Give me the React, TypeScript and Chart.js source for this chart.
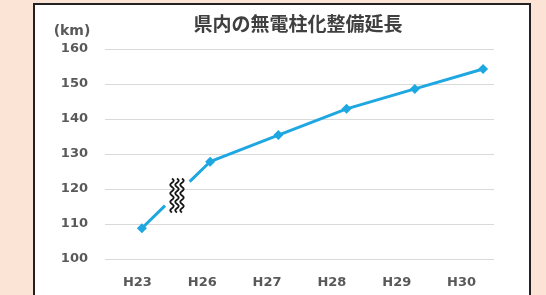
import React, { useEffect, useRef } from "react";
import { Chart, registerables } from "chart.js";

Chart.register(...registerables);

const categories = ["H23", "H26", "H27", "H28", "H29", "H30"];
const values = [108.8, 127.8, 135.4, 142.9, 148.6, 154.3];
const yTicks = [100, 110, 120, 130, 140, 150, 160];
const titleText = "県内の無電柱化整備延長";
const unitText = "(km)";

const LINE_COLOR = "#1ea7e1";
const TEXT_COLOR = "#595959";
const TICK_FONT = { family: "'DejaVu Sans', sans-serif", size: 13, weight: "bold" as const };

const breakPlugin = {
  id: "breakPlugin",
  beforeDatasetsDraw(chart: any) {
    const meta = chart.getDatasetMeta(0);
    const p0 = meta.data[0];
    const p1 = meta.data[1];
    if (!p0 || !p1) return;
    const ctx = chart.ctx;
    const lerp = (t: number) => ({ x: p0.x + (p1.x - p0.x) * t, y: p0.y + (p1.y - p0.y) * t });
    const a = lerp(0.34);
    const b = lerp(0.7);
    ctx.save();
    ctx.strokeStyle = LINE_COLOR;
    ctx.lineWidth = 3;
    ctx.beginPath();
    ctx.moveTo(p0.x, p0.y);
    ctx.lineTo(a.x, a.y);
    ctx.moveTo(b.x, b.y);
    ctx.lineTo(p1.x, p1.y);
    ctx.stroke();
    ctx.restore();
  },
  afterDatasetsDraw(chart: any) {
    const meta = chart.getDatasetMeta(0);
    const p0 = meta.data[0];
    const p1 = meta.data[1];
    if (!p0 || !p1) return;
    const ctx = chart.ctx;
    const cx = (p0.x + p1.x) / 2 + 1;
    const cy = (p0.y + p1.y) / 2 + 0.5;
    ctx.save();
    ctx.strokeStyle = "#151515";
    ctx.lineWidth = 1.8;
    const h = 34;
    const amp = 1.7;
    const periods = 4;
    for (let k = -1; k <= 1; k++) {
      const x0 = cx + k * 5;
      ctx.beginPath();
      for (let s = 0; s <= 80; s++) {
        const t = s / 80;
        const y = cy - h / 2 + t * h;
        const x = x0 + amp * Math.sin(t * periods * 2 * Math.PI);
        if (s === 0) ctx.moveTo(x, y);
        else ctx.lineTo(x, y);
      }
      ctx.stroke();
    }
    ctx.restore();
  },
};

const textPlugin = {
  id: "textPlugin",
  afterDraw(chart: any) {
    const ctx = chart.ctx;
    ctx.save();
    ctx.fillStyle = "#404040";
    ctx.font = "bold 19px 'Noto Sans CJK JP', sans-serif";
    ctx.textAlign = "center";
    ctx.textBaseline = "middle";
    ctx.fillText(titleText, 263, 19);
    ctx.fillStyle = TEXT_COLOR;
    ctx.font = "bold 14px 'DejaVu Sans', sans-serif";
    ctx.fillText(unitText, 37, 26);
    ctx.restore();
  },
};

export default function App() {
  const ref = useRef<HTMLCanvasElement>(null);

  useEffect(() => {
    if (!ref.current) return;
    const chart = new Chart(ref.current, {
      type: "line",
      data: {
        labels: categories,
        datasets: [
          {
            data: values.map((v, i) => ({ x: i, y: v })),
            xAxisID: "x",
            yAxisID: "y",
            borderColor: LINE_COLOR,
            backgroundColor: LINE_COLOR,
            borderWidth: 3,
            pointStyle: "rectRot",
            pointRadius: 5,
            pointBorderWidth: 0,
            pointBackgroundColor: LINE_COLOR,
            tension: 0,
            segment: {
              borderColor: (c: any) => (c.p0DataIndex === 0 ? "rgba(0,0,0,0)" : LINE_COLOR),
            },
          },
        ],
      },
      options: {
        responsive: false,
        animation: false,
        layout: { padding: { left: 0, right: 35, top: 44, bottom: 4 } },
        plugins: {
          legend: { display: false },
          tooltip: { enabled: false },
          title: { display: false },
        },
        scales: {
          x: {
            type: "linear",
            display: false,
            min: -0.54,
            max: 5.16,
          },
          xl: {
            type: "category",
            position: "bottom",
            labels: categories,
            offset: true,
            afterFit: (s: any) => {
              s.height = 32;
            },
            grid: { display: false, drawTicks: false },
            border: { display: false },
            ticks: { color: TEXT_COLOR, font: TICK_FONT, padding: 16, maxRotation: 0 },
          },
          y: {
            type: "linear",
            min: yTicks[0],
            max: yTicks[yTicks.length - 1],
            afterFit: (s: any) => {
              s.width = 70;
            },
            afterBuildTicks: (s: any) => {
              s.ticks = yTicks.map((v) => ({ value: v }));
            },
            grid: { color: "#d9d9d9", lineWidth: 1, drawTicks: false },
            border: { display: false },
            ticks: { color: TEXT_COLOR, font: TICK_FONT, padding: 17 },
          },
        },
      } as any,
      plugins: [breakPlugin, textPlugin],
    });
    return () => chart.destroy();
  }, []);

  return (
    <div
      style={{
        position: "fixed",
        left: 0,
        top: 0,
        width: 546,
        height: 295,
        background: "#fbe4d5",
        overflow: "hidden",
      }}
    >
      <div
        style={{
          position: "absolute",
          left: 33,
          top: 3,
          width: 494,
          height: 300,
          border: "2px solid #222",
          background: "#ffffff",
        }}
      >
        <canvas
          ref={ref}
          width={494}
          height={290}
          style={{ position: "absolute", left: 0, top: 0, width: 494, height: 290 }}
        />
      </div>
    </div>
  );
}
